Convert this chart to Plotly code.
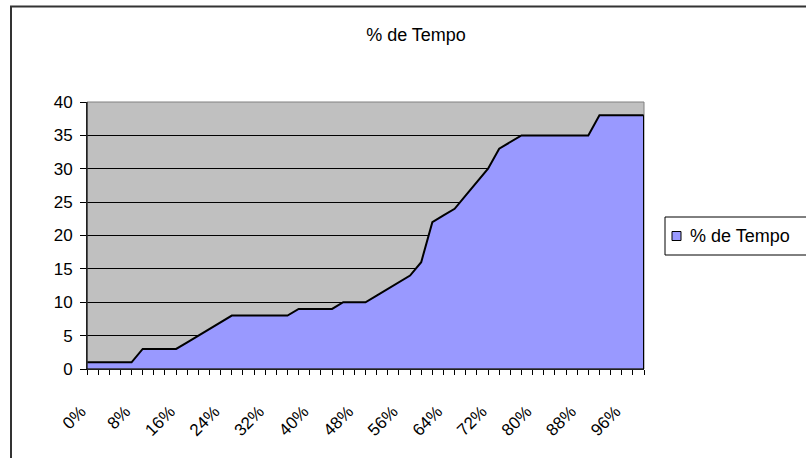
import plotly.graph_objects as go

# ---- data ----
percent_points = list(range(0, 101, 2))
category_labels = [f"{p}%" for p in percent_points]
tempo_values = [1, 1, 1, 1, 1, 3, 3, 3, 3, 4, 5, 6, 7,
                8, 8, 8, 8, 8, 8, 9, 9, 9, 9, 10, 10, 10,
                11, 12, 13, 14, 16, 22, 23, 24, 26, 28, 30, 33, 34,
                35, 35, 35, 35, 35, 35, 35,
                38, 38, 38, 38, 38]
series_name = "% de Tempo"
chart_title = "% de Tempo"
label_step = 8
y_ticks = [0, 5, 10, 15, 20, 25, 30, 35, 40]

FONT = "Liberation Sans, Arial, sans-serif"
FILL = "#9999FF"

fig = go.Figure()
fig.add_trace(go.Scatter(
    x=percent_points, y=tempo_values, mode="lines", fill="tozeroy",
    fillcolor=FILL, line=dict(color="black", width=2),
    name=series_name, showlegend=False, hoverinfo="x+y"))

W, H = 806, 458
PL, PR, PT, PB = 87, 644, 102, 369
L, T, R, B = PL, PT, W - PR, H - PB
pw, ph = PR - PL, PB - PT

def px_x(p):
    return (p - PL) / pw

def px_y(p):
    return (PB - p) / ph

label_vals = [p for p in percent_points if p % label_step == 0]
label_text = [category_labels[percent_points.index(p)] for p in label_vals]

fig.update_layout(
    width=W, height=H,
    margin=dict(l=L, r=R, t=T, b=B),
    paper_bgcolor="white", plot_bgcolor="#C0C0C0",
    font=dict(family=FONT, size=17, color="black"),
    title=dict(text=chart_title, x=416 / W, xanchor="center",
               y=1 - 35 / H, yanchor="middle", yref="container",
               font=dict(family=FONT, size=18, color="black")),
    xaxis=dict(range=[percent_points[0], percent_points[-1]],
               tickmode="array", tickvals=label_vals, ticktext=label_text,
               tickangle=-45, ticks="outside", ticklen=5, tickcolor="black",
               ticklabelstandoff=20, ticklabelshift=-6,
               showline=True, linecolor="black", linewidth=1,
               showgrid=False, zeroline=False,
               minor=dict(dtick=2, tick0=0, ticks="outside", ticklen=5,
                          tickcolor="black", showgrid=False),
               tickfont=dict(family=FONT, size=17, color="black")),
    yaxis=dict(range=[0, 40], tickmode="array", tickvals=y_ticks,
               ticks="outside", ticklen=6, tickcolor="black",
               ticklabelstandoff=4,
               showline=True, linecolor="black", linewidth=1,
               showgrid=True, gridcolor="black", gridwidth=1,
               zeroline=False,
               tickfont=dict(family=FONT, size=17, color="black")),
    showlegend=False,
)

shapes = []
shapes.append(dict(type="rect", xref="paper", yref="paper", x0=0, x1=1, y0=0, y1=1,
                   line=dict(color="#808080", width=1), layer="above"))
shapes.append(dict(type="line", xref="x", yref="y",
                   x0=percent_points[-1], x1=percent_points[-1], y0=0, y1=tempo_values[-1],
                   line=dict(color="black", width=2), layer="above"))
shapes.append(dict(type="line", xref="paper", yref="paper", x0=0, x1=0, y0=0, y1=1,
                   line=dict(color="black", width=1), layer="above"))
shapes.append(dict(type="line", xref="paper", yref="paper", x0=0, x1=1, y0=0, y1=0,
                   line=dict(color="black", width=1), layer="above"))
# outer chart border (only left and top visible in the frame)
shapes.append(dict(type="rect", xref="paper", yref="paper",
                   x0=px_x(11), x1=px_x(830), y0=px_y(480), y1=px_y(6.5),
                   line=dict(color="#333333", width=2)))
# legend box
shapes.append(dict(type="rect", xref="paper", yref="paper",
                   x0=px_x(665), x1=px_x(830), y0=px_y(255), y1=px_y(217),
                   line=dict(color="black", width=1), fillcolor="white"))
shapes.append(dict(type="rect", xref="paper", yref="paper",
                   x0=px_x(672), x1=px_x(681), y0=px_y(240.5), y1=px_y(231.5),
                   line=dict(color="black", width=1), fillcolor=FILL))
fig.update_layout(shapes=shapes)

fig.add_annotation(xref="paper", yref="paper", x=px_x(688), y=px_y(236),
                   xanchor="left", yanchor="middle", showarrow=False,
                   text=series_name, font=dict(family=FONT, size=18, color="black"))

fig.write_html("out.html", config={"displayModeBar": False},
               post_script="document.body.style.margin='0';document.body.style.overflow='hidden';")
